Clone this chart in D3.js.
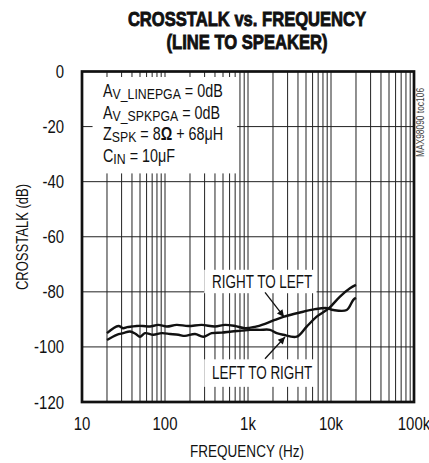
<!DOCTYPE html>
<html><head><meta charset="utf-8">
<script src="https://cdn.jsdelivr.net/npm/d3@7"></script>
<style>
html,body{margin:0;padding:0;background:#fff;}
svg{display:block;}
text{font-family:"Liberation Sans Narrow","Liberation Sans",Arial,sans-serif;fill:#111;}
</style></head><body>
<svg id="chart" width="429" height="463"></svg>
<script>
// ---- data ----
const titleLines = ["CROSSTALK vs. FREQUENCY", "(LINE TO SPEAKER)"];
const xTickValues = [10, 100, 1000, 10000, 100000];
const xTickLabels = ["10", "100", "1k", "10k", "100k"];
const yTickValues = [0, -20, -40, -60, -80, -100, -120];
const yTickLabels = ["0", "-20", "-40", "-60", "-80", "-100", "-120"];

const freqR2L = [20, 27.4, 31.4, 35, 39.7, 45.6, 54.3, 65.9, 83, 105, 138, 191, 277, 400, 528, 697, 920, 1213, 1603, 2114, 2663, 4233, 6415, 8872, 10660, 15460, 18570, 20000];
const dbR2L   = [-95.0, -92.4, -93.2, -92.8, -92.6, -92.4, -92.4, -92.6, -92.0, -92.6, -92.0, -92.4, -92.0, -92.6, -92.0, -92.4, -93.2, -92.7, -91.6, -90.2, -89.1, -87.5, -86.3, -85.9, -86.6, -86.6, -82.9, -82.2];

const freqL2R = [20, 26.2, 31.4, 37.9, 44, 50, 57.4, 72.3, 91.3, 115, 145, 174, 230, 289, 365, 482, 637, 840, 1057, 1396, 1841, 2218, 2663, 3863, 5097, 6730, 9400, 12830, 16940, 20000];
const dbL2R   = [-97.5, -95.6, -95.0, -94.4, -95.2, -96.3, -95.0, -95.6, -95.0, -95.3, -95.6, -96.0, -95.3, -96.3, -95.0, -94.8, -94.4, -94.1, -93.8, -93.8, -93.8, -95.0, -95.6, -96.3, -92.6, -89.0, -86.0, -81.7, -78.7, -77.5];

const seriesNames = ["RIGHT TO LEFT", "LEFT TO RIGHT"];
const condLines = [
  {main: "A", sub: "V_LINEPGA", rest: [" = 0dB"]},
  {main: "A", sub: "V_SPKPGA", rest: [" = 0dB"]},
  {main: "Z", sub: "SPK", rest: [" = 8", "\u03A9", " + 68\u03BCH"]},
  {main: "C", sub: "IN", rest: [" = 10\u03BCF"]}
];
const xTitle = "FREQUENCY (Hz)";
const yTitle = "CROSSTALK (dB)";
const sideNote = "MAX98090 toc106";

// ---- layout ----
const svg = d3.select("#chart");
const L = 82, R = 414, T = 71.5, B = 402;
const x = d3.scaleLog().domain([10, 100000]).range([L, R]);
const y = d3.scaleLinear().domain([-120, 0]).range([B, T]);
const K = 0.8;

function place(sel, fx, fy, rot, k) {
  sel.attr("transform", (d, i) => `translate(${fx(d, i)},${fy(d, i)})` + (rot ? ` rotate(${rot})` : "") + ` scale(${k || K},1)`);
}

// title
const tt = svg.append("g").selectAll("text").data(titleLines).join("text")
  .attr("text-anchor", "middle")
  .style("font-size", "21px").style("font-weight", "bold")
  .style("stroke", "#111").style("stroke-width", "0.9px")
  .text(d => d);
place(tt, () => 247, (d, i) => 26 + i * 23, 0, 0.79);

// grid
const minor = [];
for (let e = 1; e <= 4; e++) for (let m = 1; m <= 9; m++) minor.push(m * Math.pow(10, e));
const grid = svg.append("g");
grid.selectAll("line.v").data(minor.filter(f => f > 10 && f < 100000)).join("line")
  .attr("x1", d => x(d)).attr("x2", d => x(d)).attr("y1", T).attr("y2", B)
  .attr("stroke", "#222").attr("stroke-width", 1);
grid.selectAll("line.h").data(yTickValues.filter(v => v > -120 && v < 0)).join("line")
  .attr("x1", L).attr("x2", R).attr("y1", d => y(d)).attr("y2", d => y(d))
  .attr("stroke", "#222").attr("stroke-width", 1);

// white label backgrounds (cover grid)
const boxes = [
  {f0: 13.4, f1: 740, d0: -2, d1: -37},
  {f0: 297, f1: 6700, d0: -72, d1: -80.5},
  {f0: 297, f1: 6500, d0: -104.5, d1: -114.5}
];
svg.append("g").selectAll("rect").data(boxes).join("rect")
  .attr("x", d => x(d.f0)).attr("width", d => x(d.f1) - x(d.f0))
  .attr("y", d => y(d.d0)).attr("height", d => y(d.d1) - y(d.d0))
  .attr("fill", "#fff");

// curves
const line = d3.line().x(d => x(d[0])).y(d => y(d[1])).curve(d3.curveCatmullRom.alpha(0.5));
const s1 = freqR2L.map((f, i) => [f, dbR2L[i]]);
const s2 = freqL2R.map((f, i) => [f, dbL2R[i]]);
svg.append("g").selectAll("path").data([s1, s2]).join("path")
  .attr("d", line).attr("fill", "none").attr("stroke", "#111")
  .attr("stroke-width", 2.4).attr("stroke-linejoin", "round");

// frame
svg.append("rect").attr("x", L).attr("y", T).attr("width", R - L).attr("height", B - T)
  .attr("fill", "none").attr("stroke", "#111").attr("stroke-width", 2.7);

// axes labels
const yl = svg.append("g").selectAll("text").data(yTickValues).join("text")
  .attr("text-anchor", "end").style("font-size", "18px").text((d, i) => yTickLabels[i]);
place(yl, () => 64, d => y(d) + 6.5, 0, 0.83);
const xl = svg.append("g").selectAll("text").data(xTickValues).join("text")
  .attr("text-anchor", "middle").style("font-size", "18px").text((d, i) => xTickLabels[i]);
place(xl, d => x(d), () => 430, 0, 0.83);
const xt = svg.append("text").attr("text-anchor", "middle").style("font-size", "16.5px").text(xTitle);
place(xt, () => 247, () => 457, 0, 0.82);
const yt = svg.append("text").attr("text-anchor", "middle").style("font-size", "16.5px").text(yTitle);
place(yt, () => 28, () => 237, -90, 0.79);
const sn = svg.append("text").style("font-size", "10.5px").style("fill", "#444").text(sideNote);
place(sn, () => 423.5, () => 157, -90, 0.8);

// condition text
const cond = svg.append("g").selectAll("text").data(condLines).join("text")
  .style("font-size", "17.5px");
cond.append("tspan").text(d => d.main);
cond.append("tspan").attr("dy", 2).style("font-size", "15px").text(d => d.sub);
cond.each(function(d) {
  const t = d3.select(this);
  d.rest.forEach((s, j) => {
    const sp = t.append("tspan").text(s);
    if (j === 0) sp.attr("dy", -2);
    if (s === "\u03A9") sp.style("font-weight", "bold");
  });
});
place(cond, () => 103, (d, i) => 97 + i * 21.7, 0, 0.82);

// series labels
const sl = svg.append("g").selectAll("text").data(seriesNames).join("text")
  .style("font-size", "17.5px").text(d => d);
place(sl, () => 212, (d, i) => i === 0 ? 288.3 : 379, 0, 0.77);

// arrows
const arrows = [
  {f0: 1603, d0: -80.2, f1: 2716, d1: -89.1},
  {f0: 1603, d0: -104.3, f1: 2792, d1: -96.4}
];
svg.append("defs").append("marker").attr("id", "ah")
  .attr("viewBox", "0 0 10 10").attr("refX", 10).attr("refY", 5)
  .attr("markerWidth", 10).attr("markerHeight", 7).attr("markerUnits", "userSpaceOnUse")
  .attr("orient", "auto")
  .append("path").attr("d", "M0,0 L10,5 L0,10 Z").attr("fill", "#111");
svg.append("g").selectAll("line").data(arrows).join("line")
  .attr("x1", d => x(d.f0)).attr("y1", d => y(d.d0))
  .attr("x2", d => x(d.f1)).attr("y2", d => y(d.d1))
  .attr("stroke", "#111").attr("stroke-width", 1.3).attr("marker-end", "url(#ah)");
</script>
</body></html>
